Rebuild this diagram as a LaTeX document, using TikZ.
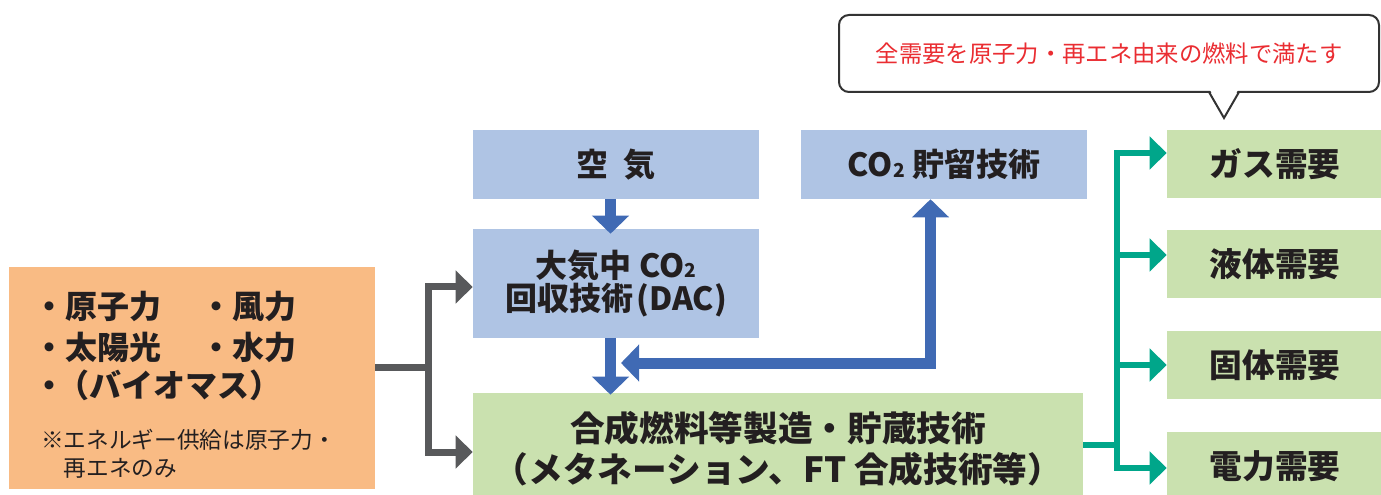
\documentclass[tikz,border=0pt]{standalone}
\usepackage{fontspec}
\setmainfont{Noto Sans CJK JP}
\usepackage{graphicx}
\usetikzlibrary{arrows.meta,calc}
\definecolor{boxblue}{RGB}{175,196,228}
\definecolor{boxgreen}{RGB}{202,225,175}
\definecolor{boxorange}{RGB}{249,187,132}
\definecolor{arrowblue}{RGB}{64,106,180}
\definecolor{tealc}{RGB}{0,166,138}
\definecolor{grayc}{RGB}{88,89,91}
\definecolor{redc}{RGB}{234,45,50}
\definecolor{textdark}{RGB}{35,31,32}
\definecolor{calloutline}{RGB}{51,51,51}
\newcommand{\cotwo}{CO\raisebox{-0.02em}{\scalebox{0.6}{2}}}
\tikzset{
  box/.style={rectangle, inner sep=0pt, text=textdark, align=center},
  bluebox/.style={box, fill=boxblue},
  greenbox/.style={box, fill=boxgreen},
  bigtext/.style={font=\bfseries\fontsize{24.5}{28}\selectfont},
  srctext/.style={inner sep=0pt, anchor=base west, text=textdark, font=\bfseries\fontsize{24}{28}\selectfont},
  barrow/.style={draw=arrowblue, line width=8.25pt, line join=miter, -{Triangle[width=27pt,length=13.5pt]}},
  gline/.style={draw=grayc, line width=5.25pt},
  garrow/.style={draw=grayc, line width=5.25pt, line join=miter, -{Triangle[width=24pt,length=12.75pt]}},
  tline/.style={draw=tealc, line width=5pt},
  tarrow/.style={draw=tealc, line width=5pt, line join=miter, -{Triangle[width=24pt,length=12.75pt]}},
}
\begin{document}
\begin{tikzpicture}[x=0.75pt,y=-0.75pt]
\useasboundingbox (0,0) rectangle (1381,495);
% boxes
\node[bluebox, font=\bfseries\fontsize{24}{28}\selectfont, minimum width=214.5pt, minimum height=51.75pt] (air) at (616,164.5) {空\hspace{0.45em}気};
\node[bluebox, font=\bfseries\fontsize{24}{28}\selectfont, minimum width=214.5pt, minimum height=51.75pt] (ccs) at (944,164.5) {\cotwo\ 貯留技術};
\node[bluebox, font=\bfseries\fontsize{24}{25}\selectfont, minimum width=214.5pt, minimum height=81.75pt] (dac) at (616,283.5) {大気中 \cotwo\\回収技術\hspace{0.1em}(DAC)};
\node[greenbox, font=\bfseries\fontsize{26}{30.75}\selectfont, minimum width=457.5pt, minimum height=84pt] (syn) at (778,449) {合成燃料等製造・貯蔵技術\\（メタネーション、FT 合成技術等）};
\node[rectangle, fill=boxorange, inner sep=0pt, minimum width=274.5pt, minimum height=166.5pt] (src) at (192,378) {};
\node[greenbox, bigtext, minimum width=162pt, minimum height=51pt] (gas) at (1275,164.5) {ガス需要};
\node[greenbox, bigtext, minimum width=162pt, minimum height=51pt] (liq) at (1275,264) {液体需要};
\node[greenbox, bigtext, minimum width=162pt, minimum height=51pt] (sol) at (1275,365) {固体需要};
\node[greenbox, bigtext, minimum width=162pt, minimum height=51pt] (ele) at (1275,466) {電力需要};
% source texts
\node[srctext] (s1) at (33,319) {・原子力};
\node[srctext] (s2) at (200,319) {・風力};
\node[srctext] (s3) at (33,359) {・太陽光};
\node[srctext] (s4) at (200,359) {・水力};
\node[srctext] (s5) at (33,397) {・\hspace{-0.25em}（バイオマス）};
\node[inner sep=0pt, anchor=base west, text=textdark, align=left, font=\fontsize{17}{21}\selectfont] (s6) at (41,476.6) {※エネルギー供給は原子力・\\　再エネのみ};
% callout
\node[rectangle, rounded corners=7.5pt, draw=calloutline, line width=1.5pt, fill=white, minimum width=405pt, minimum height=57.75pt, text=redc, font=\fontsize{17.5}{20}\selectfont] (callout) at (1109,53.5) {全需要を原子力・再エネ由来の燃料で満たす};
\fill[white] (1210,90) -- (1238,90) -- (1224,117) -- cycle;
\draw[calloutline, line width=1.5pt, line join=miter] (1209,92) -- (1224,118) -- (1239,92);
% blue arrows
\coordinate (a0) at ($(air.south)+(-5.5,0)$);
\draw[barrow] (a0) -- ($(a0 |- dac.north)+(0,5)$);
\coordinate (a1) at ($(dac.south)+(-5.5,0)$);
\draw[barrow] (a1) -- ($(a1 |- syn.north)+(0,2)$);
\coordinate (r1) at (621,363);
\coordinate (r2) at ($(ccs.south)+(-13.5,0)$);
\draw[barrow, {Triangle[width=27pt,length=13.5pt]}-{Triangle[width=27pt,length=13.5pt]}] (r1) -| (r2);
% gray arrows
\coordinate (gs) at (428,367);
\draw[gline] (src.east |- gs) -- (gs);
\draw[garrow] (gs) |- ($(dac.west)+(0,3.5)$);
\draw[garrow] (gs) |- ($(syn.west)+(0,3)$);
% teal arrows
\coordinate (ts) at (1117,445);
\draw[tline] (syn.east |- ts) -- (ts);
\draw[tarrow] (ts) |- ($(gas.west)+(0,-11.5)$);
\draw[tarrow] (ts) |- ($(liq.west)+(0,-9)$);
\draw[tarrow] (ts) |- ($(sol.west)+(0,0)$);
\draw[tarrow] (ts) |- ($(ele.west)+(0,2)$);
\end{tikzpicture}
\end{document}
